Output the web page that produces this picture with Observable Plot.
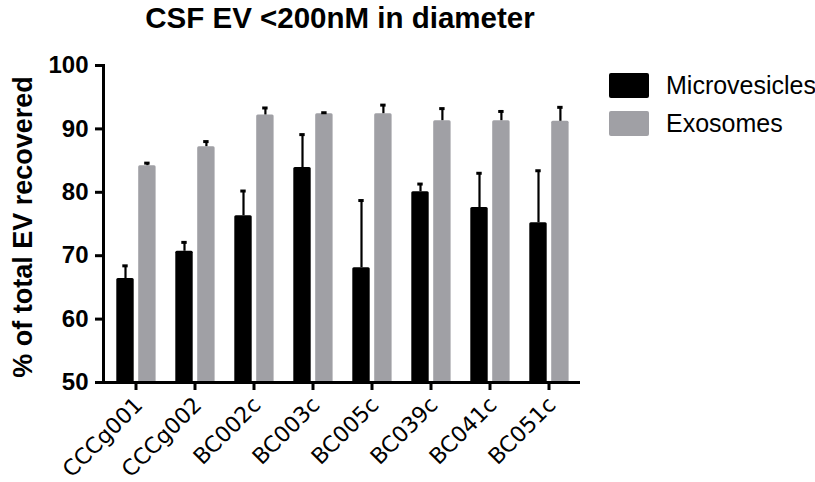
<!DOCTYPE html>
<html>
<head>
<meta charset="utf-8">
<script src="https://cdn.jsdelivr.net/npm/d3@7"></script>
<script src="https://cdn.jsdelivr.net/npm/@observablehq/plot@0.6"></script>
<style>
  body { margin: 0; background: #fff; }
  #wrap { position: relative; width: 815px; height: 482px; }
  .sw { position: absolute; width: 40px; height: 25px; border-radius: 2px; }
  .lt { position: absolute; font-family: "Liberation Sans", Arial, sans-serif; font-size: 25px; line-height: 25px; color: #000; white-space: nowrap; }
</style>
</head>
<body>
<div id="wrap"></div>
<script>
const title = "CSF EV <200nM in diameter";
const yLabel = "% of total EV recovered";
const samples = ["CCCg001", "CCCg002", "BC002c", "BC003c", "BC005c", "BC039c", "BC041c", "BC051c"];
const series = ["Microvesicles", "Exosomes"];
const colors = ["#000000", "#a0a0a5"];
const microMean = [66.4, 70.7, 76.3, 83.9, 68.1, 80.1, 77.6, 75.2];
const microErr  = [2.0, 1.4, 3.9, 5.2, 10.6, 1.2, 5.4, 8.2];
const exoMean   = [84.2, 87.2, 92.2, 92.4, 92.4, 91.3, 91.3, 91.2];
const exoErr    = [0.4, 0.8, 1.1, 0.15, 1.35, 1.9, 1.45, 2.2];
const yTicks = [50, 60, 70, 80, 90, 100];

const micro = samples.map((s, i) => ({sample: s, mean: microMean[i], top: microMean[i] + microErr[i]}));
const exo = samples.map((s, i) => ({sample: s, mean: exoMean[i], top: exoMean[i] + exoErr[i]}));

const chart = Plot.plot({
  width: 815,
  height: 482,
  marginLeft: 103,
  marginRight: 235,
  marginTop: 65,
  marginBottom: 100,
  style: {fontFamily: "Liberation Sans, Arial, sans-serif", color: "#000", background: "#fff"},
  x: {domain: samples, padding: 0},
  y: {domain: [50, 100]},
  marks: [
    Plot.barY(micro, {x: "sample", y1: 50, y2: "mean", fill: colors[0], insetLeft: 10.3, insetRight: 31.3, rx: 1.5}),
    Plot.barY(exo, {x: "sample", y1: 50, y2: "mean", fill: colors[1], insetLeft: 32.2, insetRight: 9.4, rx: 1.5}),
    Plot.ruleX(micro, {x: "sample", y1: "mean", y2: "top", dx: -10.5, stroke: "#000", strokeWidth: 2.2}),
    Plot.ruleX(exo, {x: "sample", y1: "mean", y2: "top", dx: 11.4, stroke: "#000", strokeWidth: 2.2}),
    Plot.tickY(micro, {x: "sample", y: "top", insetLeft: 16.3, insetRight: 37.3, stroke: "#000", strokeWidth: 3}),
    Plot.tickY(exo, {x: "sample", y: "top", insetLeft: 38.2, insetRight: 15.4, stroke: "#000", strokeWidth: 3}),
    Plot.ruleY([50], {stroke: "#000", strokeWidth: 3}),
    Plot.frame({anchor: "left", stroke: "#000", strokeWidth: 3}),
    Plot.axisY({ticks: yTicks, tickSize: 8, tickPadding: 7, strokeWidth: 3, fontSize: 24, fontWeight: "bold", label: null}),
    Plot.axisX({tickSize: 8, strokeWidth: 3, label: null, text: null}),
    Plot.axisX({tickSize: 0, tickRotate: -45, fontSize: 22, dx: 3, dy: 7, fontFamily: "DejaVu Sans, Verdana, sans-serif", label: null}),
    Plot.text([yLabel], {frameAnchor: "left", rotate: -90, dx: -80, dy: 3, fontSize: 27, fontWeight: "bold", textAnchor: "middle", lineAnchor: "middle"}),
    Plot.text([title], {frameAnchor: "top", dx: -2, dy: -47, fontSize: 29.5, fontWeight: "bold", textAnchor: "middle", lineAnchor: "middle"})
  ]
});

const wrap = document.getElementById("wrap");
wrap.appendChild(chart);
series.forEach((name, i) => {
  const sw = document.createElement("div");
  sw.className = "sw";
  sw.style.left = "609px";
  sw.style.top = (73 + i * 38) + "px";
  sw.style.background = colors[i];
  wrap.appendChild(sw);
  const t = document.createElement("div");
  t.className = "lt";
  t.style.left = "666px";
  t.style.top = (73 + i * 38) + "px";
  t.textContent = name;
  wrap.appendChild(t);
});
</script>
</body>
</html>
